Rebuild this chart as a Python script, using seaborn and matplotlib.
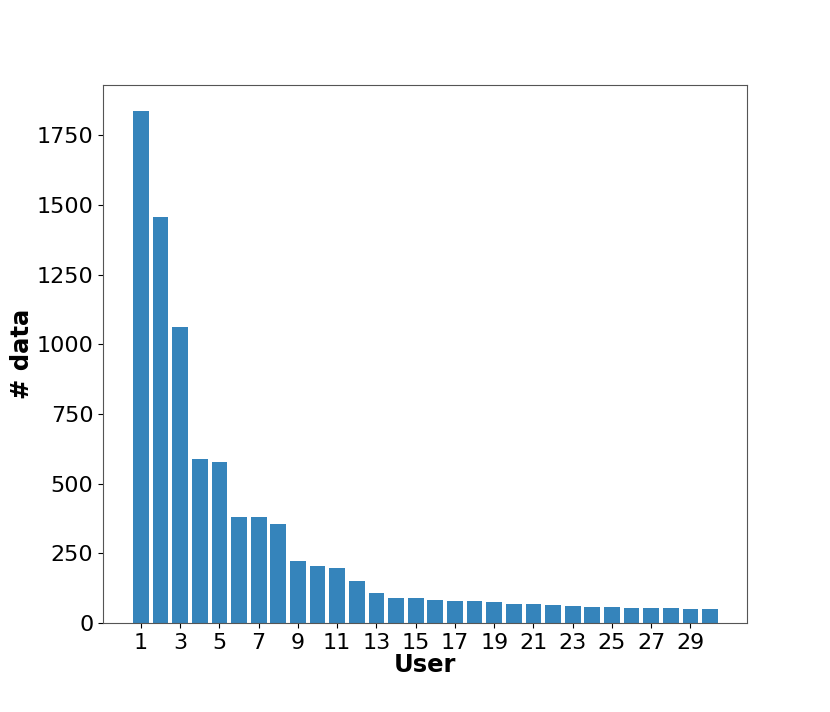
import matplotlib
matplotlib.use("Agg")
import matplotlib.pyplot as plt
import seaborn as sns
import pandas as pd

users = list(range(1, 31))
counts = [1838, 1456, 1064, 588, 577, 381, 380, 357, 224, 206,
          199, 152, 109, 91, 88, 83, 80, 78, 74, 68,
          67, 64, 61, 59, 57, 55, 55, 55, 49, 49]
xtick_vals = list(range(1, 30, 2))

df = pd.DataFrame({"User": users, "# data": counts})

fig = plt.figure(figsize=(8.3, 7.12), dpi=100)
ax = fig.add_axes([103/830, 89/712, 644/830, 538/712])
sns.barplot(data=df, x="User", y="# data", native_scale=True, width=0.8,
            color="#1f77b4", alpha=0.9, saturation=1, ax=ax)
ax.set_xlim(-0.93, 31.88)
ax.set_ylim(0, 1931)
ax.set_xticks(xtick_vals)
ax.set_xticklabels([str(v) for v in xtick_vals])
ax.set_yticks([0, 250, 500, 750, 1000, 1250, 1500, 1750])
ax.tick_params(labelsize=16)
ax.set_xlabel("User", fontsize=17.5, fontweight="bold", labelpad=0)
ax.set_ylabel("# data", fontsize=17.5, fontweight="bold", labelpad=2)
for s in ax.spines.values():
    s.set_edgecolor("#555555")
fig.savefig("out.png", dpi=100)
